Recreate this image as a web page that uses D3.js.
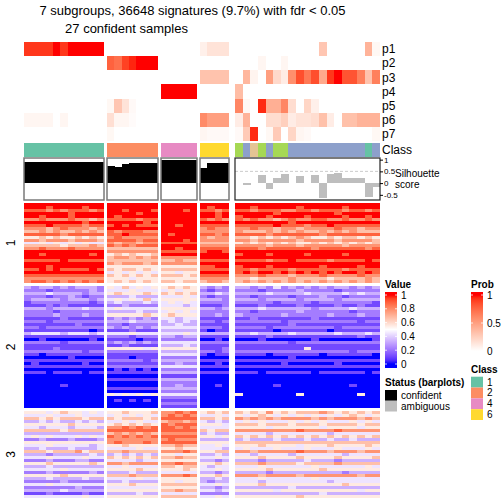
<!DOCTYPE html>
<html><head><meta charset="utf-8">
<script src="https://cdn.jsdelivr.net/npm/d3@7"></script>
<style>body{margin:0;background:#fff}svg{display:block}text{font-family:"Liberation Sans",Arial,sans-serif}</style>
</head><body><svg id="chart" width="504" height="504"></svg>
<script>
// ---------------- DATA ----------------
const titleLines = ["7 subgroups, 36648 signatures (9.7%) with fdr < 0.05", "27 confident samples"];
const sliceSizes = [11, 7, 5, 4, 19];
const sampleClass = ["1","1","1","1","1","1","1","1","1","1","1",
  "2","2","2","2","2","2","2",
  "4","4","4","4","4",
  "6","6","6","6",
  "5","3","7","5","3","5","5","3","3","3","3","3","3","3","3","3","3","1","3"];
const silhouette = [0.9,0.9,0.9,0.9,0.9,0.9,0.9,0.9,0.9,0.9,0.9,
  0.72,0.68,0.81,0.85,0.85,0.85,0.85,
  0.98,0.98,0.98,0.98,0.98,
  0.64,0.85,0.85,0.85,
  0,-0.07,0,0.34,-0.24,0.23,0.4,0,0.3,0,0.34,-0.62,0.4,0.44,0.23,0.23,0.23,-0.58,-0.16];
const probNames = ["p1","p2","p3","p4","p5","p6","p7"];
const p1 = [0.92,0.92,0.92,0.92,1,0.92,1,1,1,1,1, 0,0,0,0,0,0,0, 0,0,0,0,0, 0.08,0.15,0.15,0.15,
  0,0,0,0,0,0,0,0,0,0,0,0.3,0,0,0,0,0,0.4,0.04];
const p2 = [0,0,0,0,0,0,0,0,0,0,0, 0.78,0.72,0.89,0.96,1,1,1, 0,0,0,0,0, 0,0,0,0,
  0,0,0,0.05,0,0,0.05,0,0,0,0,0,0,0,0,0,0,0,0];
const p3 = [0,0,0,0,0,0,0,0,0,0,0, 0,0,0,0,0,0,0, 0,0,0,0,0, 0.32,0.32,0.32,0.32,
  0,0.38,0.06,0,0.5,0.2,0.1,0.58,0.85,0.68,0.85,0.45,0.92,1,0.83,0.83,0.65,0.32,0.65];
const p4 = [0,0,0,0,0,0,0,0,0,0,0, 0,0,0,0,0,0,0, 1,1,1,1,1, 0,0,0,0,
  0.35,0,0,0,0,0,0,0,0,0,0,0,0,0,0,0,0,0,0];
const p5 = [0,0,0,0,0,0,0,0,0,0,0, 0.04,0.3,0.15,0.03,0,0,0, 0,0,0,0,0, 0,0,0,0,
  0.62,0.04,0,0.95,0.42,0.42,0.62,0.18,0,0.22,0.08,0,0,0,0,0,0,0,0];
const p6 = [0.05,0.05,0.05,0.05,0,0.05,0,0,0,0,0, 0.17,0.05,0.05,0.02,0,0,0, 0,0,0,0,0, 0.6,0.5,0.5,0.5,
  0.1,0.4,0,0,0.18,0.18,0.25,0.1,0.15,0.15,0.18,0.33,0.1,0,0.33,0.33,0.4,0.4,0.4];
const p7 = [0,0,0,0,0,0,0,0,0,0,0, 0.04,0,0,0,0,0,0, 0,0,0,0,0, 0.05,0.03,0.03,0.03,
  0.03,0.28,0.95,0,0.04,0.28,0,0.22,0.05,0.03,0,0,0,0,0,0,0,0,0.04];
const rowGroupLabels = ["1","2","3"];
// Heatmap values, digit d => value d/9 ; segments = slices (11 | 7 | 5 | 4 | 19 columns)
const group1Rows = [
 "99999999999 9999999 99999 9999 9999999999999999999",
 "99989999899 9999999 99999 9899 9989999989999989999",
 "88878788878 9989998 99989 8878 8878887788788878878",
 "99999989999 9999899 99999 9989 9999989999999899999",
 "99899989999 9899999 99999 9989 8999899998999989989",
 "77877787767 8888788 99999 8787 8787767877887787787",
 "99999999899 9999989 99999 9999 9999999899999999999",
 "88898888788 8989888 99899 8888 8888898887889888888",
 "77767877767 9999999 99999 7877 7787767767777877677",
 "66767667676 8788877 99999 7777 7666767676676767666",
 "88888788888 8898888 98999 8878 8888788888878888888",
 "55656556565 7877777 99999 7677 6656565676556566565",
 "77677767776 8888788 99989 7777 7767777767777677776",
 "44545454544 7677677 88888 6666 5656565655656565656",
 "66666566676 8787888 99999 7777 7777677767777767777",
 "77877787777 6666666 99899 8888 8887888888788888878",
 "99999999999 7777777 88888 8998 9999999999999999999",
 "99899999989 5656556 99999 9999 8999899998999989999",
 "99999999999 6776767 77777 9999 9999999999999999999",
 "88888988888 6666666 66766 8888 8888788988887888898",
 "99999999999 7677767 77777 9999 9999999999999999999",
 "99989999999 5555555 55555 8899 8999899999989999899",
 "88989888898 6566565 66666 8888 8878888788888878888",
 "99999999999 4545454 55455 9999 8989989898989899898",
 "88888888888 6565656 66656 8888 7778777677787777877",
 "77777777777 5554555 55555 7777 6656666766665666676",
 "78878787878 5656565 66566 6776 6767676767676767676"];
const group2Rows = [
 "32332323332 5464545 56565 3232 3323242323232332323",
 "22212222232 4445444 45455 2122 2221222232222122222",
 "33343333233 5655565 65656 3343 3333433334333343433",
 "22212232122 3334333 44454 2122 2212222122232212222",
 "23333233323 4545464 55555 3332 3332333323333233333",
 "12222222212 3433343 45454 2222 2222212222122222221",
 "11121211111 2232222 44434 1112 1112111121111211211",
 "33323333433 4544444 55555 3323 3334333333233334333",
 "22221222222 3333433 45454 2222 2212222232222221222",
 "22223222322 5555565 56555 2232 3222223222223222322",
 "11111211111 2323232 44344 1111 1121111111211111111",
 "22212222222 3334333 34343 2212 2222221222222222122",
 "11111112111 2212222 33433 1111 1111111211111111111",
 "22122222222 3232323 44444 2221 2222122222222122222",
 "11111111101 1112111 33333 1011 1111101111110111111",
 "34444344434 4445444 44454 3333 3343333433333433343",
 "11111111111 2221222 33233 1111 1111211111111111211",
 "00100000010 1111011 22222 0010 0001000000100000001",
 "22222122222 2323232 44444 2222 2222222122222222222",
 "11111111111 1121111 33343 1111 1111111111111111111",
 "11112111111 5555545 55555 1112 1111111115111111111",
 "22222222122 2222222 33333 2212 2222222222222221222",
 "11011111111 1111111 44444 1011 1111011111101111110",
 "00000010000 1110111 22222 0000 0000000100000000000",
 "11111111111 2222212 33333 1111 1111111111111111111",
 "01000000100 1111111 22322 0010 0000001000000100000",
 "11111111111 2222222 44444 1111 1111111111111111111",
 "00000000000 0101010 22222 0000 0000000000000000000",
 "11101111011 1111111 33333 1111 1110111111011111101",
 "00000000000 0000000 11111 0000 0000000000000000000",
 "00000000000 1111111 33333 0000 0000000000000000000",
 "00000000000 0000000 22222 0000 0000000000000000000",
 "00000100000 0000000 22322 0010 0000010000000001000",
 "00000000000 1111111 33333 0000 0000000000000000000",
 "00000000000 0000000 22222 0000 0000000000000000000",
 "00000000000 5454545 44444 0000 5000000050000000500",
 "00000000000 0000000 22222 0000 0000000000000000000",
 "00000000000 0101010 11111 0000 0000000000000000000",
 "00000000000 0000000 22222 0000 0000000000000000000",
 "00000000000 0000000 11111 0000 0000000000000000000"];
const group3Rows = [
 "55545655454 5565556 77878 5656 6565756566676565656",
 "44454445444 4545454 78787 4454 5456545454545456545",
 "66565666566 6566656 88888 6656 7676767777676777676",
 "33434334343 4454544 67767 4343 4545444545454445454",
 "55555565555 5656565 87888 5554 6665666566656666566",
 "44344434443 7787878 88787 4444 5555455555545555455",
 "66666566666 8888888 88888 6566 7777777787777877777",
 "33333333333 6767676 77777 3433 4444344444443444444",
 "45454445454 8787878 88888 5545 6565656565656565656",
 "22322232223 7777777 78777 3333 3433343334334334333",
 "55555555555 7877787 88888 5555 6666666666666666666",
 "44454444434 5565555 66766 4454 5556555545556555565",
 "33433343334 4444544 55655 4443 4544454445444544454",
 "66656667566 6676666 77787 5566 7767777787776777677",
 "33323333343 3434343 55455 3343 4434444344444434444",
 "44454444544 6565656 66766 4454 5556555565555655556",
 "22232223322 4444344 55555 3323 3332333334333233333",
 "55565555565 7767777 77877 5565 6667666656666766666",
 "33343333333 4454444 66566 4344 4445444444544444454",
 "44444544444 5555655 55565 4454 5555655555565555555",
 "22232222232 3334333 44444 3323 3333233333333323333",
 "55555655555 6667666 77787 5565 7776777767777777677",
 "33343333433 4444544 55555 3343 4445444444544444444",
 "22222322222 3343333 55455 3233 4443444444443444444",
 "44454444444 5556555 66666 4454 5556555555555565555",
 "22222223222 4444444 55555 3323 3333333433333333333",
 "33333433333 5555555 66766 4434 5555545555555555455",
 "11121111211 3333433 44444 2222 3333333333343333333",
 "44444444544 5555555 66666 4454 5555555565555555555"];
const valueTicks = [0, 0.2, 0.4, 0.6, 0.8, 1];
const probTicks = [0, 0.5, 1];
const silTicks = [-0.5, 0, 0.5, 1];
const classLegend = ["1", "2", "4", "6"];
const statusLegend = ["confident", "ambiguous"];

// ---------------- LAYOUT / STYLE ----------------
const FONT = '"Liberation Sans", Arial, sans-serif';
const classColor = {"1":"#66C2A5","2":"#FC8D62","3":"#8DA0CB","4":"#E78AC3","5":"#A6D854","6":"#FFD92F","7":"#E5C494"};
const sliceRanges = [[24,104],[107,158],[161,197],[200,229],[235,380]];
const groupRanges = [[203,283],[286,408],[411,498]];
const probTop = 42, probBottom = 141, classTop = 143, classBottom = 157;
const silTop = 158, silBottom = 200;

const valueColor = d3.scaleLinear().domain([0, 0.5, 1]).range(["blue", "white", "red"]).interpolate(d3.interpolateLab);
const probColor = d3.scaleLinear().domain([0, 1]).range(["white", "red"]).interpolate(d3.interpolateLab);

const svg = d3.select("#chart");

// column positions
const cols = [];
let idx = 0;
sliceSizes.forEach((n, s) => {
  const xs = d3.scaleBand().domain(d3.range(n)).range(sliceRanges[s]).paddingInner(0).paddingOuter(0);
  for (let j = 0; j < n; j++) { cols.push({slice: s, j, x: xs(j), w: xs.bandwidth(), i: idx}); idx++; }
});

// title
svg.append("text").attr("x", 192.5).attr("y", 14.5).attr("text-anchor", "middle")
  .style("font-size", "13px").text(titleLines[0]);
svg.append("text").attr("x", 126.5).attr("y", 33).attr("text-anchor", "middle")
  .style("font-size", "13px").text(titleLines[1]);

// probability rows
const probData = [p1, p2, p3, p4, p5, p6, p7];
const yProb = d3.scaleBand().domain(probNames).range([probTop, probBottom]);
const gp = svg.append("g").attr("shape-rendering", "crispEdges");
probNames.forEach((name, r) => {
  gp.selectAll(null).data(cols).join("rect")
    .attr("x", c => c.x).attr("width", c => c.w + 0.3)
    .attr("y", yProb(name)).attr("height", yProb.bandwidth() + 0.3)
    .attr("fill", c => probColor(probData[r][c.i]));
  svg.append("text").attr("x", 382).attr("y", yProb(name) + yProb.bandwidth() / 2)
    .attr("dy", "0.35em").style("font-size", "12px").text(name);
});
// class row
gp.selectAll(null).data(cols).join("rect")
  .attr("x", c => c.x).attr("width", c => c.w + 0.3)
  .attr("y", classTop).attr("height", classBottom - classTop)
  .attr("fill", c => classColor[sampleClass[c.i]]);
svg.append("text").attr("x", 382).attr("y", (classTop + classBottom) / 2).attr("dy", "0.35em")
  .style("font-size", "12px").text("Class");

// silhouette barplots
const yS = d3.scaleLinear().domain([-0.72, 1.07]).range([silBottom, silTop]);
const gs = svg.append("g");
gs.append("line").attr("x1", sliceRanges[4][0]).attr("x2", sliceRanges[4][1])
  .attr("y1", yS(0.5)).attr("y2", yS(0.5)).attr("stroke", "#BEBEBE").attr("stroke-dasharray", "3,2").attr("stroke-width", 0.8);
gs.selectAll(null).data(cols.filter(c => silhouette[c.i] !== 0)).join("rect")
  .attr("shape-rendering", "crispEdges")
  .attr("x", c => c.x).attr("width", c => c.w + 0.3)
  .attr("y", c => Math.min(yS(0), yS(silhouette[c.i])))
  .attr("height", c => Math.abs(yS(silhouette[c.i]) - yS(0)))
  .attr("fill", c => c.slice < 4 ? "#000" : "#BEBEBE");
sliceRanges.forEach((r, s) => {
  gs.append("rect").attr("x", r[0]).attr("y", silTop).attr("width", r[1] - r[0]).attr("height", silBottom - silTop)
    .attr("fill", "none").attr("stroke", s < 4 ? "#7a7a7a" : "#222").attr("stroke-width", s < 4 ? 1.5 : 1.2);
});
const sAxis = svg.append("g").attr("transform", `translate(${sliceRanges[4][1]},0)`)
  .call(d3.axisRight(yS).tickValues(silTicks).tickSize(3).tickSizeOuter(0).tickFormat(d => String(d)));
sAxis.select(".domain").remove();
sAxis.selectAll("text").style("font-size", "8px").style("font-family", FONT).attr("x", 4);
sAxis.selectAll("line").attr("stroke", "#000");
svg.append("text").attr("x", 395).attr("y", 176.5).style("font-size", "10px").text("Silhouette");
svg.append("text").attr("x", 395).attr("y", 187.5).style("font-size", "10px").text("score");

// main heatmap
const gh = svg.append("g").attr("shape-rendering", "crispEdges");
[group1Rows, group2Rows, group3Rows].forEach((rows, g) => {
  const yR = d3.scaleBand().domain(d3.range(rows.length)).range(groupRanges[g]);
  rows.forEach((row, r) => {
    const segs = row.trim().split(/\s+/);
    const vals = [];
    sliceSizes.forEach((n, s) => {
      const seg = segs[s] || "";
      for (let j = 0; j < n; j++) vals.push(+(seg[j] !== undefined ? seg[j] : seg[seg.length - 1]) / 9);
    });
    gh.selectAll(null).data(cols).join("rect")
      .attr("x", c => c.x).attr("width", c => c.w + 0.3)
      .attr("y", yR(r)).attr("height", yR.bandwidth() + 0.3)
      .attr("fill", c => valueColor(vals[c.i]));
  });
  const yc = (groupRanges[g][0] + groupRanges[g][1]) / 2;
  svg.append("text").attr("transform", `translate(15,${yc}) rotate(-90)`).attr("text-anchor", "middle")
    .style("font-size", "12px").text(rowGroupLabels[g]);
});

// ---------------- LEGENDS ----------------
const defs = svg.append("defs");
function gradientLegend(id, x, yTopTick, yBottomTick, barTop, barBottom, colorFn, ticks, title) {
  const grad = defs.append("linearGradient").attr("id", id).attr("x1", 0).attr("x2", 0).attr("y1", 1).attr("y2", 0);
  d3.range(0, 1.0001, 0.05).forEach(t => grad.append("stop").attr("offset", t).attr("stop-color", colorFn(t)));
  const sc = d3.scaleLinear().domain([0, 1]).range([yBottomTick, yTopTick]);
  svg.append("text").attr("x", x).attr("y", 288).style("font-size", "10px").style("font-weight", "bold").text(title);
  const gradTop = sc(1), gradBot = sc(0);
  svg.append("rect").attr("x", x).attr("y", barTop).attr("width", 12).attr("height", gradTop - barTop).attr("fill", colorFn(1));
  svg.append("rect").attr("x", x).attr("y", gradBot).attr("width", 12).attr("height", barBottom - gradBot).attr("fill", colorFn(0));
  svg.append("rect").attr("x", x).attr("y", gradTop).attr("width", 12).attr("height", gradBot - gradTop).attr("fill", `url(#${id})`);
  ticks.forEach(t => {
    svg.append("line").attr("x1", x).attr("x2", x + 2).attr("y1", sc(t)).attr("y2", sc(t)).attr("stroke", "#fff").attr("stroke-width", 0.8);
    svg.append("line").attr("x1", x + 10).attr("x2", x + 12).attr("y1", sc(t)).attr("y2", sc(t)).attr("stroke", "#fff").attr("stroke-width", 0.8);
    svg.append("text").attr("x", x + 16).attr("y", sc(t)).attr("dy", "0.35em").style("font-size", "10px").text(String(t));
  });
}
gradientLegend("gv", 385, 295, 364, 292, 368, valueColor, valueTicks, "Value");
gradientLegend("gp", 471, 295, 351, 292, 353, probColor, probTicks, "Prob");

svg.append("text").attr("x", 385).attr("y", 386).style("font-size", "10px").style("font-weight", "bold").text("Status (barplots)");
const yStat = d3.scaleBand().domain(statusLegend).range([390, 411.5]);
statusLegend.forEach((s, i) => {
  svg.append("rect").attr("x", 385).attr("y", yStat(s)).attr("width", 12).attr("height", yStat.bandwidth())
    .attr("fill", i === 0 ? "#000" : "#BEBEBE");
  svg.append("text").attr("x", 401).attr("y", yStat(s) + yStat.bandwidth() / 2).attr("dy", "0.35em").style("font-size", "10px").text(s);
});
svg.append("text").attr("x", 471).attr("y", 373).style("font-size", "10px").style("font-weight", "bold").text("Class");
const yCls = d3.scaleBand().domain(classLegend).range([376.7, 420]);
classLegend.forEach(c => {
  svg.append("rect").attr("x", 471).attr("y", yCls(c)).attr("width", 12).attr("height", yCls.bandwidth())
    .attr("fill", classColor[c]);
  svg.append("text").attr("x", 487).attr("y", yCls(c) + yCls.bandwidth() / 2).attr("dy", "0.35em").style("font-size", "10px").text(c);
});
</script></body></html>
